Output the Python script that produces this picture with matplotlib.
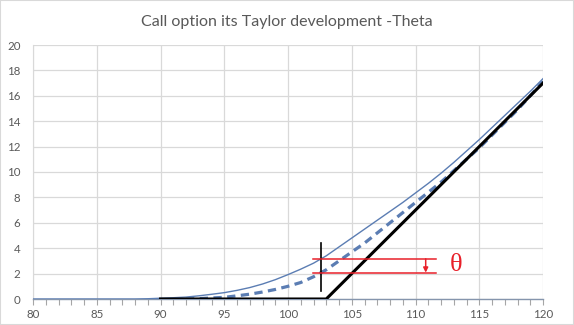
import numpy as np
import matplotlib
matplotlib.use("Agg")
import matplotlib.pyplot as plt
from matplotlib.patches import Rectangle

# Underlying price grid
spot = [80, 85, 88, 89, 90, 91, 92, 93, 94, 95, 96, 97, 98, 99, 100, 101, 102,
        103, 104, 105, 106, 107, 108, 109, 110, 111, 112, 113, 114, 115, 116,
        117, 118, 119, 120]

# Call value today (thin line)
call_value = [0, 0, 0, 0.02, 0.06, 0.1, 0.15, 0.25, 0.37, 0.5, 0.68, 0.9, 1.18,
              1.52, 1.92, 2.35, 2.82, 3.4, 4.1, 4.8, 5.5, 6.2, 6.9, 7.6, 8.35,
              9.1, 9.9, 10.75, 11.65, 12.55, 13.5, 14.45, 15.4, 16.35, 17.35]

# Call value after the theta (time) step (dashed line)
theta_spot = [92, 93, 94, 95, 96, 97, 98, 99, 100, 101, 102, 103, 104, 105,
              106, 107, 108, 109, 110, 111, 112, 113, 114, 115, 116, 117, 118,
              119, 120]
call_theta = [0, 0.03, 0.08, 0.13, 0.25, 0.38, 0.55, 0.75, 1.0, 1.3, 1.75, 2.3,
              3.0, 3.7, 4.4, 5.2, 6.0, 6.8, 7.6, 8.4, 9.2, 10.1, 11.0, 11.9,
              12.9, 13.9, 14.9, 16.0, 17.15]

# Payoff at expiry (thick black line)
payoff_spot = [90, 103, 120]
payoff = [0, 0, 17]

x_ticks = [80, 85, 90, 95, 100, 105, 110, 115, 120]
y_ticks = [0, 2, 4, 6, 8, 10, 12, 14, 16, 18, 20]
marker_spot = 102.6
arrow_spot = 110.8

title = "Call option its Taylor development -Theta"

plt.rcParams['font.family'] = ['Lato', 'DejaVu Sans']

fig = plt.figure(figsize=(5.74, 3.25), dpi=100)
ax = fig.add_axes([33 / 574, 26 / 325, 510 / 574, 254 / 325])

blue = '#5b7db3'
ax.plot(spot, call_value, color=blue, lw=1.0, zorder=3)
ax.plot(theta_spot, call_theta, color=blue, lw=2.3, dashes=(2.6, 1.7), zorder=3)
ax.plot(payoff_spot, payoff, color='black', lw=2.2, zorder=4)

# Theta annotation
v_hi = np.interp(marker_spot, spot, call_value)
v_lo = np.interp(marker_spot, theta_spot, call_theta)
ax.plot([marker_spot, marker_spot], [0.65, 4.4], color='black', lw=1.2, zorder=5)
for v in (v_hi, v_lo):
    ax.plot([101.95, 111.6], [v, v], color='#e8202a', lw=1.1, zorder=5)
ax.annotate('', xy=(arrow_spot, v_lo), xytext=(arrow_spot, v_hi),
            arrowprops=dict(arrowstyle='-|>', color='#e8202a', lw=1.1,
                            mutation_scale=7, shrinkA=0, shrinkB=0),
            zorder=6)
ax.text(113.2, (v_hi + v_lo) / 2 + 0.05, 'θ', color='#e8202a', fontsize=19,
        family=['Liberation Serif', 'DejaVu Serif'], ha='center', va='center')

ax.set_xlim(80, 120)
ax.set_ylim(0, 20)
ax.set_xticks(x_ticks)
ax.set_xticks(np.arange(80, 121, 1), minor=True)
ax.set_yticks(y_ticks)
ax.grid(True, color='#d9d9d9', lw=0.9, zorder=0)
ax.set_axisbelow(True)

for s in ('top', 'right'):
    ax.spines[s].set_visible(False)
ax.spines['left'].set_color('#d9d9d9')
ax.spines['bottom'].set_color('#8595ad')
ax.spines['bottom'].set_linewidth(1.0)

ax.tick_params(axis='y', length=0, pad=9, labelsize=8.3, labelcolor='#595959')
ax.tick_params(axis='x', which='both', length=4, width=0.8, color='#a6a6a6',
               direction='out', pad=3, labelsize=8.3, labelcolor='#595959')

fig.text(0.5, 1 - 22 / 325, title, ha='center', va='center',
         fontsize=11.5, color='#595959')

fig.patches.append(Rectangle((0, 0), 1, 1, transform=fig.transFigure,
                             fill=False, edgecolor='#d9d9d9', lw=1.5))

fig.savefig('out.png', dpi=100)
